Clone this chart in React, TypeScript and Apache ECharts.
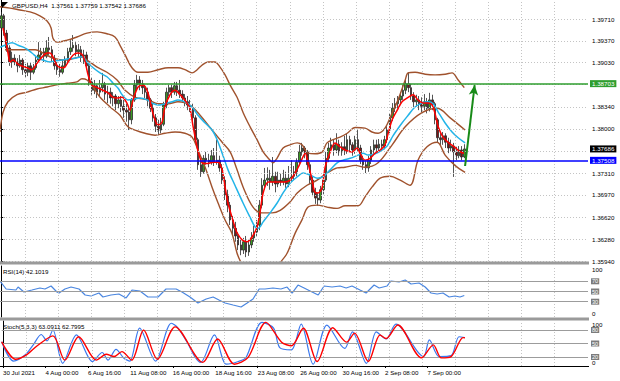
import { useEffect, useRef } from 'react';
import * as echarts from 'echarts';

const FONT = '"Liberation Sans", Arial, sans-serif';
const FS = 6.2;

const symbolTitle = 'GBPUSD,H4  1.37561 1.37759 1.37542 1.37686';
const rsiTitle = 'RSI(14) 42.1019';
const stochTitle = 'Stoch(5,3,3) 63.0911 62.7995';

const xTickLabels = ['30 Jul 2021', '4 Aug 00:00', '6 Aug 16:00', '11 Aug 08:00', '16 Aug 00:00', '18 Aug 16:00', '23 Aug 08:00', '26 Aug 00:00', '30 Aug 16:00', '2 Sep 08:00', '7 Sep 00:00'];
const barsPerLabel = 16;
const totalSlots = 221;

const priceTicks = [1.3594, 1.3628, 1.3662, 1.3697, 1.3731, 1.3765, 1.38, 1.3834, 1.3869, 1.3903, 1.3937, 1.3971];
const priceTickLabels = ['1.35940', '1.36280', '1.36620', '1.36970', '1.37310', '', '1.38000', '1.38340', '', '1.39030', '1.39370', '1.39710'];

const resistanceLevel = 1.38703;
const supportLevel = 1.37508;
const lastPrice = 1.37686;

// [open, close, low, high]
const ohlc: number[][] = [
  [1.3957, 1.3976, 1.3954, 1.3982], [1.3976, 1.3949, 1.3945, 1.3979], [1.3949, 1.3926, 1.392, 1.3954], [1.3926, 1.3904, 1.3898, 1.393],
  [1.3904, 1.391, 1.3895, 1.392], [1.391, 1.3904, 1.3899, 1.3916], [1.3904, 1.3898, 1.3888, 1.391], [1.3898, 1.3907, 1.3895, 1.3915],
  [1.3907, 1.3892, 1.3884, 1.391], [1.3892, 1.3888, 1.3879, 1.3901], [1.3888, 1.3898, 1.3882, 1.3904], [1.3898, 1.3888, 1.3876, 1.3904],
  [1.3888, 1.3895, 1.3885, 1.3901], [1.3895, 1.3907, 1.3892, 1.3913], [1.3907, 1.3915, 1.3904, 1.3935], [1.3915, 1.392, 1.3907, 1.3926],
  [1.392, 1.3913, 1.3904, 1.3926], [1.3913, 1.3926, 1.391, 1.3938], [1.3926, 1.3923, 1.3915, 1.3943], [1.3923, 1.391, 1.3904, 1.3929],
  [1.391, 1.3898, 1.3892, 1.3915], [1.3898, 1.3892, 1.3884, 1.3904], [1.3892, 1.3888, 1.3881, 1.3901], [1.3888, 1.3898, 1.3885, 1.3907],
  [1.3898, 1.3907, 1.3895, 1.3913], [1.3907, 1.392, 1.3904, 1.3926], [1.392, 1.3926, 1.3915, 1.3938], [1.3926, 1.393, 1.392, 1.3946],
  [1.393, 1.392, 1.3913, 1.3935], [1.392, 1.3923, 1.3912, 1.3932], [1.3923, 1.3913, 1.3904, 1.3929], [1.3913, 1.3915, 1.3901, 1.3923],
  [1.3915, 1.3898, 1.3892, 1.392], [1.3898, 1.3873, 1.3867, 1.3901], [1.3873, 1.386, 1.3853, 1.3879], [1.386, 1.3867, 1.3854, 1.3876],
  [1.3867, 1.3857, 1.3848, 1.387], [1.3857, 1.3864, 1.3851, 1.3876], [1.3864, 1.387, 1.3857, 1.3887], [1.387, 1.3854, 1.3845, 1.3873],
  [1.3854, 1.3857, 1.384, 1.3867], [1.3857, 1.3848, 1.3839, 1.3864], [1.3848, 1.3851, 1.3835, 1.3857], [1.3851, 1.3839, 1.3829, 1.3854],
  [1.3839, 1.3845, 1.3832, 1.3851], [1.3845, 1.3835, 1.3826, 1.3851], [1.3835, 1.3829, 1.3817, 1.3845], [1.3829, 1.3826, 1.3811, 1.3839],
  [1.3826, 1.3814, 1.3798, 1.3832], [1.3814, 1.3845, 1.3807, 1.3848], [1.3845, 1.3868, 1.3842, 1.3876], [1.3868, 1.3876, 1.386, 1.3884],
  [1.3876, 1.387, 1.386, 1.3882], [1.387, 1.3864, 1.3854, 1.3876], [1.3864, 1.3857, 1.3848, 1.387], [1.3857, 1.3845, 1.3835, 1.3864],
  [1.3845, 1.3832, 1.3826, 1.3848], [1.3832, 1.3817, 1.3811, 1.3839], [1.3817, 1.3804, 1.3795, 1.3823], [1.3804, 1.3798, 1.379, 1.3814],
  [1.3798, 1.3807, 1.3793, 1.3817], [1.3807, 1.3837, 1.3804, 1.3842], [1.3837, 1.3857, 1.3832, 1.3864], [1.3857, 1.3864, 1.3851, 1.387],
  [1.3864, 1.3857, 1.3848, 1.387], [1.3857, 1.3867, 1.3853, 1.3873], [1.3867, 1.386, 1.3851, 1.3873], [1.386, 1.3854, 1.3848, 1.3876],
  [1.3854, 1.3848, 1.3842, 1.386], [1.3848, 1.3842, 1.3835, 1.3854], [1.3842, 1.3837, 1.3829, 1.3851], [1.3837, 1.3832, 1.3826, 1.3845],
  [1.3832, 1.3817, 1.3811, 1.3839], [1.3817, 1.3783, 1.3776, 1.3821], [1.3783, 1.3744, 1.3736, 1.3786], [1.3744, 1.3733, 1.3725, 1.3751],
  [1.3733, 1.3754, 1.373, 1.3759], [1.3754, 1.3751, 1.3744, 1.3764], [1.3751, 1.3748, 1.374, 1.3761], [1.3748, 1.3758, 1.3744, 1.3767],
  [1.3758, 1.3748, 1.3742, 1.377], [1.3748, 1.3751, 1.3744, 1.3783], [1.3751, 1.3739, 1.3733, 1.3758], [1.3739, 1.372, 1.3714, 1.3745],
  [1.372, 1.3697, 1.3689, 1.3726], [1.3697, 1.3681, 1.367, 1.3705], [1.3681, 1.3658, 1.365, 1.3686], [1.3658, 1.3645, 1.3636, 1.3664],
  [1.3645, 1.3633, 1.3624, 1.3655], [1.3633, 1.3619, 1.3611, 1.3639], [1.3619, 1.3611, 1.3603, 1.3627], [1.3611, 1.3624, 1.3605, 1.363],
  [1.3624, 1.3608, 1.36, 1.3633], [1.3608, 1.3619, 1.3602, 1.3627], [1.3619, 1.363, 1.3614, 1.3639], [1.363, 1.3639, 1.3624, 1.3649],
  [1.3639, 1.365, 1.3633, 1.3658], [1.365, 1.3681, 1.3642, 1.3689], [1.3681, 1.3712, 1.3676, 1.3723], [1.3712, 1.372, 1.3705, 1.3739],
  [1.372, 1.3723, 1.3711, 1.374], [1.3723, 1.3717, 1.3705, 1.3736], [1.3717, 1.3726, 1.3711, 1.3756], [1.3726, 1.3714, 1.3701, 1.3733],
  [1.3714, 1.372, 1.3709, 1.3733], [1.372, 1.3717, 1.3711, 1.373], [1.3717, 1.3723, 1.3712, 1.3736], [1.3723, 1.3714, 1.3708, 1.3733],
  [1.3714, 1.3723, 1.3709, 1.3742], [1.3723, 1.3726, 1.3717, 1.3751], [1.3726, 1.3733, 1.372, 1.3742], [1.3733, 1.3748, 1.3726, 1.3754],
  [1.3748, 1.3764, 1.3744, 1.3775], [1.3764, 1.377, 1.3758, 1.3778], [1.377, 1.3764, 1.3754, 1.3773], [1.3764, 1.3744, 1.3736, 1.3767],
  [1.3744, 1.372, 1.3714, 1.3748], [1.372, 1.3701, 1.3695, 1.3726], [1.3701, 1.3692, 1.3683, 1.3708], [1.3692, 1.3689, 1.368, 1.3701],
  [1.3689, 1.3705, 1.3684, 1.3711], [1.3705, 1.372, 1.3698, 1.373], [1.372, 1.3754, 1.3717, 1.3764], [1.3754, 1.377, 1.3748, 1.3778],
  [1.377, 1.3775, 1.3764, 1.3786], [1.3775, 1.3767, 1.3758, 1.3783], [1.3767, 1.3776, 1.3762, 1.3793], [1.3776, 1.3764, 1.3758, 1.3783],
  [1.3764, 1.3772, 1.3758, 1.3779], [1.3772, 1.3767, 1.3759, 1.3789], [1.3767, 1.3783, 1.3761, 1.3792], [1.3783, 1.3775, 1.3764, 1.3789],
  [1.3775, 1.3767, 1.3758, 1.3779], [1.3767, 1.3783, 1.3761, 1.3789], [1.3783, 1.377, 1.3764, 1.3798], [1.377, 1.3751, 1.3745, 1.3775],
  [1.3751, 1.3744, 1.3736, 1.3758], [1.3744, 1.3739, 1.3731, 1.3751], [1.3739, 1.3751, 1.3733, 1.3758], [1.3751, 1.3767, 1.3745, 1.3773],
  [1.3767, 1.3775, 1.3761, 1.3783], [1.3775, 1.377, 1.3764, 1.3783], [1.377, 1.3776, 1.3765, 1.3784], [1.3776, 1.3773, 1.3765, 1.3783],
  [1.3773, 1.3783, 1.3768, 1.3789], [1.3783, 1.3798, 1.3778, 1.3804], [1.3798, 1.3817, 1.3793, 1.3823], [1.3817, 1.3832, 1.3812, 1.384],
  [1.3832, 1.3839, 1.3826, 1.3848], [1.3839, 1.3845, 1.3832, 1.3851], [1.3845, 1.3851, 1.3839, 1.3857], [1.3851, 1.386, 1.3845, 1.3868],
  [1.386, 1.387, 1.3854, 1.3879], [1.387, 1.3864, 1.3857, 1.3888], [1.3864, 1.3851, 1.3845, 1.387], [1.3851, 1.3842, 1.3834, 1.3857],
  [1.3842, 1.3845, 1.3835, 1.3853], [1.3845, 1.3839, 1.3829, 1.3851], [1.3839, 1.3835, 1.3826, 1.3849], [1.3835, 1.3842, 1.3829, 1.3854],
  [1.3842, 1.3832, 1.3824, 1.3848], [1.3832, 1.3845, 1.3827, 1.3856], [1.3845, 1.3839, 1.3829, 1.3853], [1.3839, 1.3814, 1.3807, 1.3842],
  [1.3814, 1.3786, 1.3778, 1.3817], [1.3786, 1.3783, 1.3773, 1.3795], [1.3783, 1.3789, 1.3775, 1.3795], [1.3789, 1.3779, 1.377, 1.3793],
  [1.3779, 1.377, 1.3762, 1.3786], [1.377, 1.3773, 1.3764, 1.3783], [1.3773, 1.3764, 1.3725, 1.3778], [1.3764, 1.3758, 1.3751, 1.3772],
  [1.3758, 1.3767, 1.3754, 1.3773], [1.3767, 1.3756, 1.3751, 1.3773], [1.37561, 1.37686, 1.37542, 1.37759],
];

// [bar index, price]
const bandUpper: number[][] = [
  [-0.5, 1.399], [3.3, 1.3988], [7, 1.3985], [10.8, 1.3982], [14.5, 1.3976], [17.2, 1.3968], [18.7, 1.3957], [19.4, 1.3941], [20.9, 1.3935],
  [24.7, 1.3938], [28.4, 1.3943], [32.2, 1.3949], [36, 1.3951], [39.7, 1.3948], [42.7, 1.3943], [44.6, 1.393], [46.5, 1.3915], [49.1, 1.3895],
  [51.4, 1.3888], [55.1, 1.3888], [58.9, 1.3892], [62.7, 1.3895], [66.4, 1.3895], [69, 1.3892], [71.7, 1.3887], [73.6, 1.3892], [75.4, 1.3899],
  [77.7, 1.3904], [80.3, 1.3904], [82.2, 1.3896], [84.1, 1.3884], [86, 1.3868], [88.6, 1.3849], [90.9, 1.3825], [93.5, 1.3803], [96.1, 1.3783],
  [98.4, 1.3764], [101, 1.3751], [102.1, 1.3747], [103.6, 1.3754], [105.9, 1.377], [108.5, 1.3775], [111.2, 1.3778], [113, 1.3775], [115.3, 1.3762],
  [117.9, 1.3761], [120.6, 1.3764], [122.4, 1.3778], [124.7, 1.3783], [127.3, 1.3787], [130, 1.3793], [133, 1.3802], [136.7, 1.3801], [139.3, 1.3795],
  [141.6, 1.3793], [144.2, 1.3801], [146.9, 1.3825], [149.1, 1.3845], [151.8, 1.3876], [152.9, 1.3887], [155.5, 1.3888], [159.3, 1.3885],
  [163, 1.3884], [166.8, 1.3885], [169.4, 1.3887], [171.7, 1.3876], [174, 1.3864],
];
const bandMiddle: number[][] = [
  [1.4, 1.3923], [7, 1.3923], [12.7, 1.3923], [15.7, 1.3918], [19.4, 1.391], [24.7, 1.3907], [29.6, 1.3912], [32.2, 1.3907], [36, 1.3896],
  [39.7, 1.3888], [43.5, 1.3876], [46.5, 1.386], [50.3, 1.3849], [55.1, 1.3845], [58.9, 1.3839], [62.7, 1.3839], [66.4, 1.3842], [70.9, 1.3837],
  [74.7, 1.3821], [79.2, 1.3798], [83, 1.3779], [86, 1.3764], [88.6, 1.3736], [90.9, 1.3709], [94.6, 1.3678], [98, 1.3669], [101.8, 1.3669],
  [104.8, 1.3673], [108.5, 1.3686], [111.2, 1.37], [114.9, 1.3712], [118.7, 1.372], [122.4, 1.3731], [126.2, 1.3739], [129.2, 1.374], [133, 1.3743],
  [136.7, 1.374], [141.6, 1.3747], [146.9, 1.3775], [151.8, 1.3803], [158.1, 1.3825], [163.8, 1.3832], [168.7, 1.3817], [174.3, 1.3798],
];
const bandLower: number[][] = [
  [-0.5, 1.3795], [0.6, 1.3825], [2.5, 1.3842], [5.9, 1.3853], [9.7, 1.3857], [13.4, 1.3862], [17.2, 1.3865], [20.2, 1.3868], [24.7, 1.3871],
  [28.4, 1.3873], [30.3, 1.3878], [32.2, 1.3876], [34.5, 1.3865], [37.1, 1.3849], [40.9, 1.3834], [44.6, 1.3821], [47.6, 1.3803], [50.3, 1.3798],
  [54, 1.3793], [57.8, 1.379], [61.5, 1.3793], [65.3, 1.3795], [69, 1.3793], [71.7, 1.3787], [73.9, 1.3767], [76.6, 1.374], [79.2, 1.3709],
  [81.5, 1.3684], [84.1, 1.3658], [86.7, 1.3637], [88.6, 1.3606], [90.5, 1.3588], [93.5, 1.3564], [98, 1.3552], [101.8, 1.3567], [104.8, 1.3591],
  [107.4, 1.3606], [110.4, 1.3637], [113, 1.3658], [115.3, 1.3678], [118.7, 1.3681], [122.4, 1.3678], [126.2, 1.3676], [129.2, 1.368],
  [134.1, 1.368], [136.7, 1.3694], [139.3, 1.3709], [142.4, 1.3723], [146.1, 1.3726], [149.9, 1.372], [153.6, 1.3712], [156.6, 1.3751],
  [160, 1.3772], [163.8, 1.3779], [166.8, 1.3759], [170.5, 1.3743], [174.3, 1.3732],
];
const fastMA: number[][] = [
  [0.6, 1.3957], [1.4, 1.3943], [2.5, 1.3918], [3.3, 1.3904], [4.4, 1.3907], [5.9, 1.3902], [7, 1.3899], [9.7, 1.3895], [11.5, 1.3892],
  [13.4, 1.3902], [15.3, 1.3912], [17.2, 1.3918], [18.3, 1.3918], [19.4, 1.3912], [20.9, 1.3899], [22.8, 1.3895], [23.9, 1.3896], [25.1, 1.3904],
  [27, 1.3915], [28.8, 1.3918], [30.3, 1.3916], [31.5, 1.3904], [32.6, 1.3884], [34.1, 1.3868], [36, 1.3864], [38.2, 1.386], [40.1, 1.3856],
  [42, 1.3849], [43.9, 1.3848], [45.4, 1.3849], [47.2, 1.384], [48.4, 1.3829], [49.5, 1.3845], [51.4, 1.3865], [53.3, 1.3868], [55.1, 1.3856],
  [57, 1.3824], [58.9, 1.3806], [60.4, 1.381], [61.5, 1.3834], [63.4, 1.3853], [65.3, 1.386], [67.2, 1.3853], [68.3, 1.3848], [69.8, 1.384],
  [70.9, 1.3832], [72.1, 1.3803], [73.6, 1.3771], [74.7, 1.3754], [75.8, 1.3746], [77.7, 1.3746], [79.6, 1.3748], [81.5, 1.3748], [83, 1.3736],
  [84.1, 1.3709], [85.2, 1.3684], [86.7, 1.3662], [87.8, 1.3647], [88.6, 1.3638], [90.5, 1.3627], [92.4, 1.3624], [94.2, 1.3631], [96.1, 1.3647],
  [97.2, 1.3669], [98.4, 1.37], [100.3, 1.3717], [102.1, 1.3717], [104.8, 1.3717], [106.6, 1.3717], [108.5, 1.372], [110.4, 1.3731],
  [112.3, 1.3746], [114.2, 1.3762], [115.3, 1.3746], [116.8, 1.372], [117.9, 1.3701], [119.1, 1.37], [120.6, 1.3709], [121.7, 1.374],
  [123.6, 1.3764], [125.4, 1.3778], [127.3, 1.3772], [129.2, 1.3767], [131.8, 1.3764], [133.7, 1.377], [134.8, 1.3762], [136.7, 1.3751],
  [138.6, 1.3754], [140.5, 1.3762], [142.4, 1.3767], [144.2, 1.3775], [145.4, 1.3793], [146.9, 1.3814], [148.8, 1.3829], [150.6, 1.3842],
  [152.9, 1.3849], [154.8, 1.3853], [156.6, 1.3845], [158.5, 1.384], [160.4, 1.384], [161.9, 1.3837], [163, 1.3824], [164.2, 1.3803],
  [166, 1.3787], [167.9, 1.3779], [170.5, 1.3771], [172.4, 1.3764], [173.9, 1.3762],
];
const slowMA: number[][] = [
  [-0.5, 1.3927], [1.4, 1.393], [4, 1.3934], [6.3, 1.393], [8.9, 1.3926], [11.5, 1.3918], [13.8, 1.391], [15.7, 1.3907], [18.3, 1.3904],
  [20.2, 1.3906], [22.8, 1.3907], [25.1, 1.3909], [27.7, 1.391], [30.3, 1.3912], [32.2, 1.3904], [34.5, 1.3895], [37.1, 1.3887], [39.7, 1.3881],
  [42, 1.3871], [43.9, 1.3863], [45.4, 1.3853], [47.6, 1.3845], [49.5, 1.3846], [52.1, 1.3848], [54.8, 1.3845], [56.6, 1.384], [58.9, 1.3837],
  [61.5, 1.3839], [64.2, 1.3842], [66.4, 1.3845], [69, 1.3842], [71.7, 1.3834], [73.9, 1.3821], [76.6, 1.3809], [79.2, 1.3798], [81.1, 1.3783],
  [83, 1.3762], [85.2, 1.3736], [87.8, 1.3712], [90.9, 1.3684], [93.5, 1.3662], [95.4, 1.3647], [96.5, 1.3645], [98.4, 1.3655], [101, 1.3669],
  [103.6, 1.3684], [105.9, 1.37], [108.5, 1.3715], [111.2, 1.3725], [113.4, 1.3731], [116, 1.3728], [118.7, 1.3723], [120.9, 1.3725],
  [123.6, 1.3736], [126.2, 1.3747], [128.4, 1.3751], [131.1, 1.3754], [134.1, 1.3759], [136, 1.3762], [137.8, 1.3759], [140.5, 1.3761],
  [143.1, 1.3767], [145, 1.3773], [147.2, 1.3789], [150.6, 1.3809], [152.9, 1.3821], [155.5, 1.3834], [158.1, 1.384], [160.4, 1.3842],
  [162.3, 1.3839], [164.2, 1.3826], [166.8, 1.3809], [169.4, 1.3795], [171.7, 1.3786], [174.3, 1.3778],
];
const arrowFrom = [174.3, 1.3742];
const arrowTo = [177.9, 1.3868];

const rsiLevels = [70, 50, 30];
const rsiLine: number[][] = [
  [-0.5, 70.6], [1.8, 54.9], [5.5, 52.9], [6.3, 58.8], [8.5, 49], [11.5, 52.9], [14.5, 56.9], [16.4, 54.9], [18.7, 60.8], [20.9, 49], [21.7, 47],
  [23.9, 54.9], [26.2, 58.8], [29.2, 54.9], [31.5, 43.1], [33.7, 41.2], [36.7, 47], [38.2, 39.2], [41.2, 43.1], [44.2, 45.1], [46.9, 37.3],
  [49.1, 52.9], [52.1, 51], [55.1, 39.2], [58.9, 39.2], [61.9, 54.9], [65.7, 54.9], [67.9, 49], [70.9, 39.2], [73.9, 27.5], [77, 35.3],
  [79.6, 39.2], [81.8, 33.3], [84.1, 27.5], [87.1, 23.5], [90.1, 19.6], [92.4, 27.5], [94.6, 35.3], [96.9, 54.9], [99.1, 54.9], [102.1, 56.9],
  [105.1, 54.9], [107.4, 58.8], [109.3, 47], [111.5, 62.7], [113.8, 56.9], [116.8, 49], [119.1, 43.1], [121.3, 60.8], [124.3, 58.8],
  [127.3, 60.8], [129.6, 56.9], [131.8, 60.8], [134.8, 52.9], [137.1, 47], [140.1, 62.7], [142, 56.9], [145, 60.8], [146.5, 70.6], [149.5, 68.6],
  [151.8, 72.5], [154, 64.7], [157, 66.7], [159.3, 58.8], [161.5, 47], [163.8, 45.1], [166, 47], [168.3, 39.2], [170.5, 41.2], [172.4, 39.2],
  [174, 42.1],
];

const stochLevels = [80, 50, 20];
const stochMain: number[][] = [
  [-0.5, 54], [4, 11], [8.4, 25], [11.4, 47], [14.4, 70], [16.6, 56], [18.8, 80], [22.5, 6], [27.7, 69], [33.7, 10], [37.4, 30], [39.6, 13],
  [42.6, 37], [45.6, 17], [47.8, 11], [51.5, 84], [57.5, 11], [63.4, 95], [65.6, 87], [69.3, 54], [72.3, 21], [74.5, 8], [79.7, 69], [84.2, 4],
  [88.7, 10], [91.6, 19], [97.6, 97], [102, 84], [104.3, 41], [108.7, 36], [112.4, 93], [116.9, 4], [122.1, 91], [128.8, 39], [131.7, 76],
  [137, 6], [140.7, 76], [144.4, 60], [148.1, 93], [158.5, 21], [160.7, 58], [164.4, 21], [168.9, 23], [171.9, 65], [174.1, 63.1],
];
const stochSignal: number[][] = [
  [-0.5, 54], [4.7, 15], [8.4, 23], [12.9, 45], [18.8, 67], [23.3, 13], [28.5, 65], [35.2, 13], [38.9, 26], [41.9, 21], [44.8, 32], [48.5, 13],
  [53, 80], [58.2, 15], [64.9, 87], [75.3, 8], [80.9, 60], [87.2, 4], [92.4, 19], [99.1, 97], [105, 53], [108.7, 45], [113.2, 84], [118.4, 10],
  [124.3, 85], [129.5, 53], [132.5, 73], [137.7, 10], [142.1, 69], [144.4, 61], [148.8, 91], [157.7, 18], [162.2, 47], [165.2, 18], [168.9, 21],
  [173.4, 63], [174.1, 62.8],
];

const C = {
  grid: '#c4c4c4',
  band: '#a0522d',
  fast: '#ff0000',
  slow: '#22b4e8',
  green: '#2f9e2f',
  blue: '#0000ff',
  rsi: '#4a86e0',
  stochMain: '#3a78ee',
  stochSignal: '#ff0000',
  bull: '#3c9a22',
  bear: '#7a1414',
  wick: '#2a2a2a',
  sep: '#9a9a9a',
  level: '#9c9c9c',
};

export default function App() {
  const ref = useRef<HTMLDivElement>(null);
  useEffect(() => {
    if (!ref.current) return;
    const chart = echarts.init(ref.current, undefined, { renderer: 'svg' });
    const categories = Array.from({ length: totalSlots }, (_, i) => String(i));
    const vGridBars: number[] = [];
    for (let v = 8.9; v < totalSlots - 1; v += 12.44) vGridBars.push(+v.toFixed(2));

    const grids = [
      { left: 0, top: 0, width: 588, height: 261 },
      { left: 0, top: 266, width: 588, height: 51 },
      { left: 0, top: 321, width: 588, height: 45 },
    ];
    const xAxes: any[] = [];
    grids.forEach((_, g) => {
      xAxes.push({
        type: 'category', gridIndex: g, data: categories, boundaryGap: true,
        axisLine: { show: false }, axisTick: { show: false }, axisLabel: { show: false }, splitLine: { show: false },
      });
      xAxes.push({ type: 'value', gridIndex: g, min: -0.5, max: totalSlots - 0.5, show: false });
    });
    xAxes[4] = {
      type: 'category', gridIndex: 2, data: categories, boundaryGap: true,
      axisLine: { show: false },
      axisTick: { show: true, alignWithLabel: true, length: 2, interval: (i: number) => i % barsPerLabel === 0 && i / barsPerLabel < xTickLabels.length, lineStyle: { color: '#000' } },
      axisLabel: {
        show: true, interval: (i: number) => i % barsPerLabel === 0 && i / barsPerLabel < xTickLabels.length,
        formatter: (_v: string, i: number) => xTickLabels[i / barsPerLabel] ?? '',
        align: 'left', margin: 3, fontSize: FS, fontFamily: FONT, color: '#000',
      },
      splitLine: { show: false },
    };

    const edgeLabel = (v: number) => (v === 100 ? '{t|100}' : '{b|0}');
    const edgeRich = { t: { padding: [7, 0, 0, 0], fontSize: FS, fontFamily: FONT }, b: { padding: [0, 0, 8, 0], fontSize: FS, fontFamily: FONT } };
    const yAxes: any[] = [
      {
        type: 'value', gridIndex: 0, position: 'right', min: 1.3594, max: 1.40006,
        axisLine: { show: true, lineStyle: { color: '#000' } },
        axisTick: { show: true, length: 3, customValues: priceTicks, lineStyle: { color: '#000' } },
        axisLabel: {
          customValues: priceTicks, fontSize: FS, fontFamily: FONT, color: '#000', margin: 4,
          formatter: (v: number) => { const k = priceTicks.findIndex((t) => Math.abs(t - v) < 1e-6); return k >= 0 ? priceTickLabels[k] : ''; },
        },
        splitLine: { show: false },
      },
      {
        type: 'value', gridIndex: 1, position: 'right', min: 0, max: 100,
        axisLine: { show: true, lineStyle: { color: '#000' } }, axisTick: { show: false },
        axisLabel: { customValues: [0, 100], fontSize: FS, fontFamily: FONT, color: '#000', margin: 4, formatter: edgeLabel, rich: edgeRich },
        splitLine: { show: false },
      },
      {
        type: 'value', gridIndex: 2, position: 'right', min: 0, max: 100,
        axisLine: { show: true, lineStyle: { color: '#000' } }, axisTick: { show: false },
        axisLabel: { customValues: [0, 100], fontSize: FS, fontFamily: FONT, color: '#000', margin: 4, formatter: edgeLabel, rich: edgeRich },
        splitLine: { show: false },
      },
    ];

    const dotted = { color: C.grid, type: [1, 2] as any, width: 1 };
    const vGridSeries = (g: number) => ({
      type: 'line', xAxisIndex: g * 2 + 1, yAxisIndex: g, data: [], silent: true, z: 1,
      markLine: { silent: true, precision: 4, symbol: 'none', animation: false, label: { show: false }, lineStyle: dotted, data: vGridBars.map((v) => ({ xAxis: v })) },
    });
    const priceLabel = (value: number, bg: string, color = '#fff') => ({
      yAxis: value,
      label: {
        show: true, position: 'end', distance: 2, formatter: value.toFixed(5), backgroundColor: bg, color,
        padding: [1, 2, 0, 2], fontSize: FS, fontFamily: FONT,
      },
    });
    const lineSeries = (data: number[][], color: string, width: number, smooth: number | boolean, g = 0, z = 4) => ({
      type: 'line', xAxisIndex: g * 2 + 1, yAxisIndex: g, data, showSymbol: false, symbol: 'none', smooth,
      lineStyle: { color, width }, z, silent: true,
    });
    const levelMarks = (levels: number[]) => ({
      silent: true, precision: 2, symbol: 'none', animation: false,
      lineStyle: { color: C.level, type: 'solid', width: 1 },
      label: {
        show: true, position: 'end', distance: 3, formatter: (p: any) => String(Math.round(p.value)),
        backgroundColor: '#7c7c7c', color: '#ffffff', padding: [0, 1, 0, 1], fontSize: 5.6, fontFamily: FONT, lineHeight: 6,
      },
      data: levels.map((l) => ({ yAxis: l })),
    });

    const option: any = {
      animation: false,
      backgroundColor: '#ffffff',
      grid: grids,
      xAxis: xAxes,
      yAxis: yAxes,
      series: [
        vGridSeries(0), vGridSeries(1), vGridSeries(2),
        {
          type: 'line', xAxisIndex: 1, yAxisIndex: 0, data: [], silent: true, z: 1,
          markLine: { silent: true, precision: 6, symbol: 'none', label: { show: false }, lineStyle: dotted, data: priceTicks.map((t) => ({ yAxis: t })) },
        },
        {
          type: 'candlestick', xAxisIndex: 0, yAxisIndex: 0, data: ohlc, barWidth: 2, z: 3, silent: true,
          itemStyle: { color: C.bull, color0: C.bear, borderColor: C.wick, borderColor0: C.wick, borderWidth: 0.8 },
        },
        lineSeries(bandUpper, C.band, 1.4, 0.35),
        lineSeries(bandMiddle, C.band, 1.4, 0.35),
        lineSeries(bandLower, C.band, 1.4, 0.35),
        lineSeries(slowMA, C.slow, 1.5, 0.35),
        lineSeries(fastMA, C.fast, 1.5, 0.3),
        {
          type: 'line', xAxisIndex: 1, yAxisIndex: 0, data: [], silent: true, z: 6,
          markLine: {
            silent: true, precision: 6, symbol: 'none', animation: false,
            data: [
              { ...priceLabel(resistanceLevel, C.green), lineStyle: { color: C.green, width: 1.5, type: 'solid' } },
              { ...priceLabel(supportLevel, C.blue), lineStyle: { color: C.blue, width: 1.5, type: 'solid' } },
              { ...priceLabel(lastPrice, '#000'), lineStyle: { color: 'rgba(0,0,0,0)', width: 0 } },
              [
                { coord: arrowFrom, symbol: 'none', lineStyle: { color: '#178a17', width: 2, type: 'solid' }, label: { show: false } },
                { coord: arrowTo, symbol: 'arrow', symbolSize: [7, 10] },
              ],
            ],
          },
        },
        { ...lineSeries(rsiLine, C.rsi, 1.2, false, 1), markLine: levelMarks(rsiLevels) },
        { ...lineSeries(stochSignal, C.stochSignal, 1.4, 0.3, 2, 5), markLine: levelMarks(stochLevels) },
        lineSeries(stochMain, C.stochMain, 1.2, 0.3, 2, 4),
      ],
      graphic: [
        { type: 'rect', shape: { x: 0, y: 261.5, width: 589, height: 3 }, style: { fill: C.sep }, z: 10 },
        { type: 'rect', shape: { x: 0, y: 317.5, width: 589, height: 3 }, style: { fill: C.sep }, z: 10 },
        { type: 'rect', shape: { x: 0, y: 366, width: 589, height: 1 }, style: { fill: '#000' }, z: 10 },
        { type: 'polygon', shape: { points: [[2, 2], [8, 2], [2, 8]] }, style: { fill: '#000' }, z: 10 },
        { type: 'text', x: 12, y: 2, style: { text: symbolTitle, fontSize: FS, fontFamily: FONT, fill: '#000' }, z: 10 },
        { type: 'text', x: 3, y: 268, style: { text: rsiTitle, fontSize: FS, fontFamily: FONT, fill: '#000' }, z: 10 },
        { type: 'text', x: 3, y: 323, style: { text: stochTitle, fontSize: FS, fontFamily: FONT, fill: '#000' }, z: 10 },
      ],
    };
    chart.setOption(option);
    return () => chart.dispose();
  }, []);
  return <div ref={ref} style={{ position: 'absolute', left: 0, top: 0, width: 620, height: 381, background: '#fff' }} />;
}
